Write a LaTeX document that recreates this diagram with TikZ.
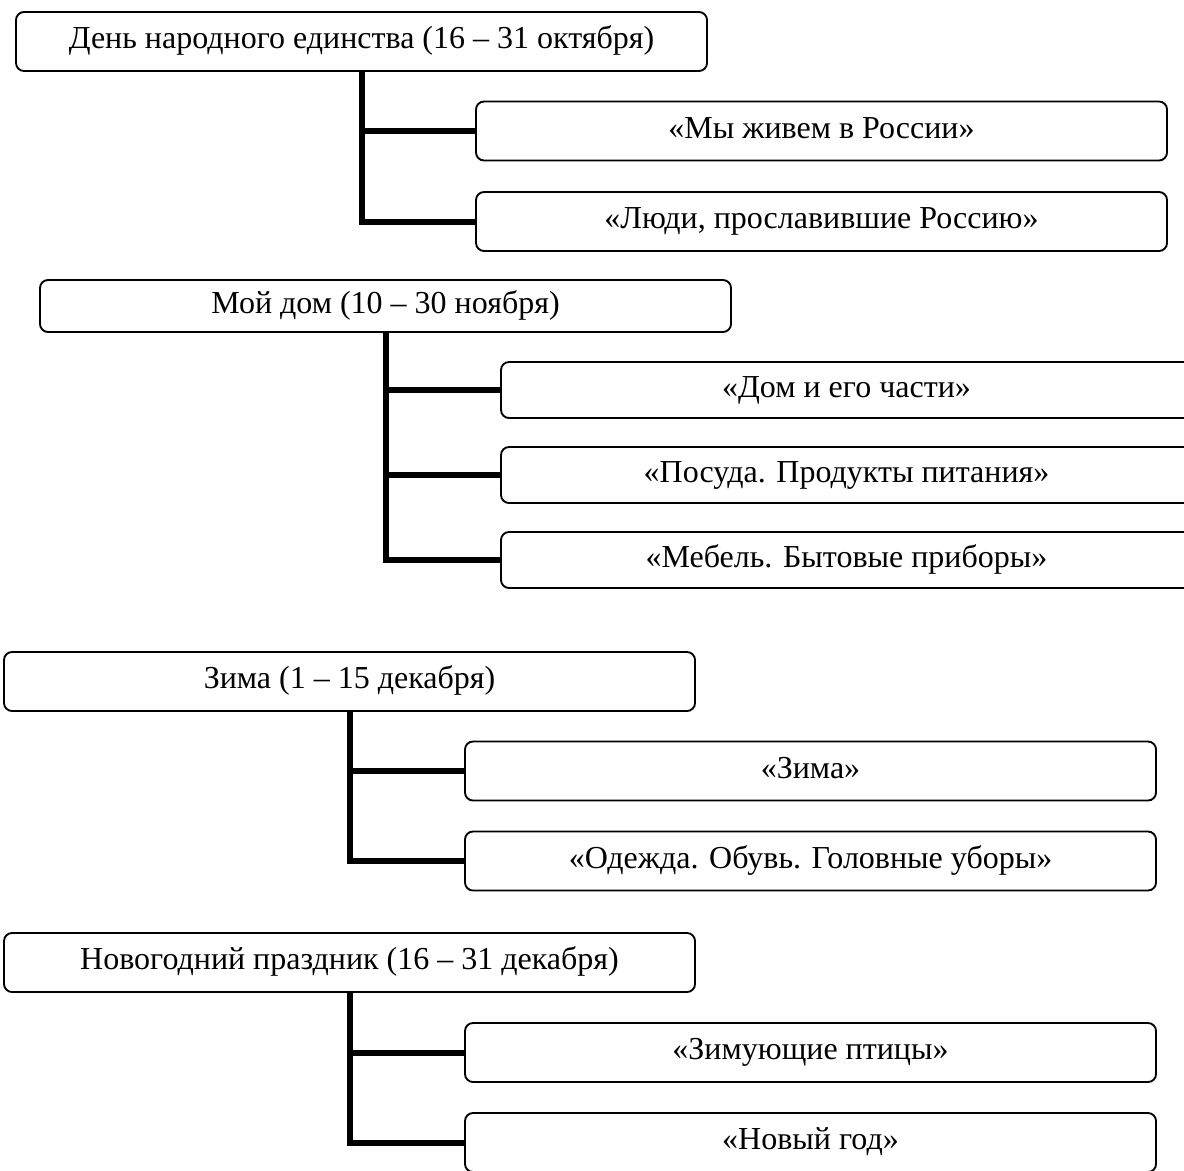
\documentclass[tikz,border=0pt]{standalone}
\usepackage{fontspec}
\setmainfont{Liberation Serif}
\begin{document}
\begin{tikzpicture}[x=0.75pt,y=-0.75pt,
  tbox/.style={draw, line width=1.4pt, rounded corners=6pt, inner sep=0pt,
    minimum width=518.25pt, minimum height=44.25pt, font=\fontsize{24pt}{28pt}\selectfont,
    text height=20pt, text depth=8.8pt},
  smallbox/.style={tbox, minimum height=39pt},
  midbox/.style={tbox, minimum height=42pt},
  conn/.style={line width=4.5pt}]
\useasboundingbox (0,0) rectangle (1184,1170);
% group 1
\node[tbox] (p1) at (361.5,41.5) {День народного единства (16 – 31 октября)};
\node[tbox] (a1) at (821.5,131) {«Мы живем в России»};
\node[tbox] (a2) at (821.5,221.5) {«Люди, прославившие Россию»};
\draw[conn] (p1.south) |- (a2.west);
\draw[conn] (p1.south |- a1.west) -- (a1.west);
% group 2
\node[smallbox] (p2) at (385.5,306) {Мой дом (10 – 30 ноября)};
\node[midbox] (b1) at (846.5,390) {«Дом и его части»};
\node[midbox] (b2) at (846.5,475) {«Посуда. Продукты питания»};
\node[midbox] (b3) at (846.5,560) {«Мебель. Бытовые приборы»};
\draw[conn] (p2.south) |- (b3.west);
\draw[conn] (p2.south |- b1.west) -- (b1.west);
\draw[conn] (p2.south |- b2.west) -- (b2.west);
% group 3
\node[tbox] (p3) at (349.5,681.5) {Зима (1 – 15 декабря)};
\node[tbox] (c1) at (810.5,771) {«Зима»};
\node[tbox] (c2) at (810.5,861) {«Одежда. Обувь. Головные уборы»};
\draw[conn] (p3.south) |- (c2.west);
\draw[conn] (p3.south |- c1.west) -- (c1.west);
% group 4
\node[tbox] (p4) at (349.5,962.5) {Новогодний праздник (16 – 31 декабря)};
\node[tbox] (d1) at (810.5,1052.5) {«Зимующие птицы»};
\node[tbox] (d2) at (810.5,1142.5) {«Новый год»};
\draw[conn] (p4.south) |- (d2.west);
\draw[conn] (p4.south |- d1.west) -- (d1.west);
\end{tikzpicture}
\end{document}
